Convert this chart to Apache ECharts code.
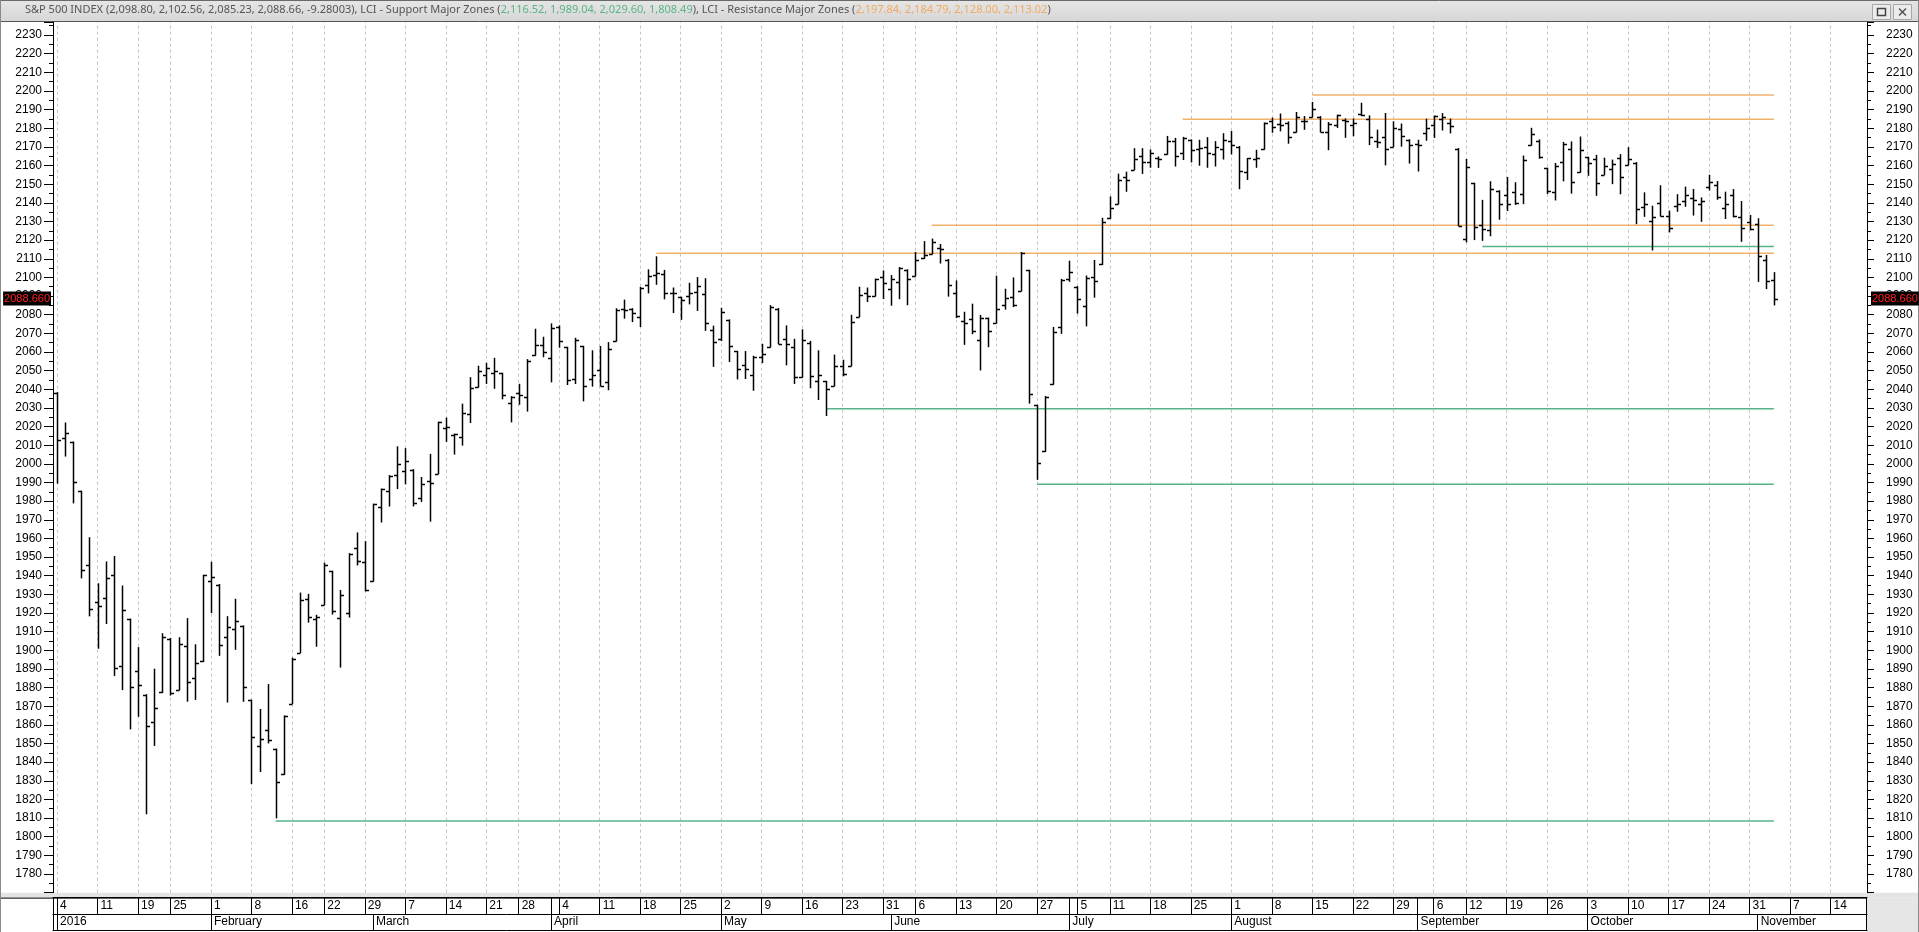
<!DOCTYPE html>
<html><head><meta charset="utf-8">
<script src="https://cdn.jsdelivr.net/npm/echarts@6/dist/echarts.min.js"></script>
<style>html,body{margin:0;padding:0;background:#fff;overflow:hidden}#c{width:1919px;height:932px;}</style>
</head><body><div id="c"></div>
<script>
// ---------- categories (trading days) ----------
const holidays = ['2016-01-18','2016-02-15','2016-03-25','2016-05-30','2016-07-04','2016-09-05','2016-11-24'];
const dayCount = 224;
const monthNames = ['2016','February','March','April','May','June','July','August','September','October','November','December'];

// ---------- OHLC data (Jan 4 2016 .. Nov 3 2016) ----------
const opens = [
 2038.20,2013.78,2011.71,1985.32,1945.97,1926.12,1927.83,1940.34,1891.68,1916.68,1888.66,1876.18,1861.46,1877.40,1906.28,1878.79,1902.52,1885.22,1894.00,
 1936.94,1935.26,1907.07,1911.67,1913.07,1873.25,1848.46,1857.10,1847.00,1833.40,1871.44,1898.80,1927.57,1916.74,1924.44,1942.38,1917.56,1920.03,1954.95,1947.13,
 1937.09,1976.60,1985.60,1994.01,1996.11,1996.88,1981.44,1990.97,1994.71,2019.27,2015.27,2014.24,2026.90,2041.16,2047.88,2048.64,2048.55,2032.48,2037.89,2035.75,2058.27,2063.77,
 2056.62,2073.19,2062.50,2045.56,2063.01,2045.54,2050.23,2043.72,2065.92,2082.89,2083.10,2078.83,2096.05,2101.52,2102.09,2091.49,2089.37,2089.84,2092.33,2090.93,2071.82,
 2067.17,2077.18,2060.30,2052.95,2047.77,2057.55,2062.63,2083.29,2067.17,2062.50,2046.53,2065.04,2044.38,2044.21,2041.88,2052.23,2052.65,2078.93,2091.44,2090.06,2100.13,
 2093.94,2097.71,2104.07,2100.83,2110.18,2112.71,2115.65,2109.57,2091.75,2076.65,2077.60,2066.36,2078.20,2075.58,2085.19,2089.75,2092.80,2103.81,2031.45,2006.67,2042.69,2073.17,
 2099.34,2095.05,2084.43,2100.42,2106.97,2131.72,2139.50,2153.81,2157.88,2165.13,2162.04,2163.79,2166.10,2172.91,2166.47,2173.71,2168.97,2169.81,2166.05,2168.83,
 2173.15,2169.94,2156.81,2163.51,2168.79,2183.76,2182.24,2182.81,2177.97,2183.74,2186.08,2186.24,2177.84,2181.90,2184.24,2181.58,2187.81,2185.09,2173.29,2175.10,2170.19,2179.45,2173.56,
 2171.33,2177.49,2181.61,2185.17,2182.76,2169.08,2120.86,2150.47,2127.86,2125.36,2146.48,2143.99,2145.94,2144.58,2170.94,2173.29,2158.54,2146.04,2161.85,2168.90,2156.51,
 2164.33,2163.37,2155.15,2158.22,2164.19,2160.39,2161.35,2137.67,2130.26,2139.68,2132.95,2138.31,2140.81,2142.51,2139.43,2148.50,2149.72,2136.97,2144.06,2132.23,2129.78,
 2128.68,2109.43,2098.80
];
const highs = [
 2038.20,2021.94,2011.71,1985.32,1960.40,1935.65,1947.38,1950.33,1934.47,1916.68,1901.44,1876.18,1889.85,1908.85,1906.28,1906.73,1916.99,1902.96,1940.24,
 1947.20,1935.26,1918.01,1927.35,1913.07,1873.25,1868.25,1881.60,1847.00,1864.78,1895.77,1930.68,1930.00,1918.78,1946.70,1942.38,1932.08,1951.83,1962.96,1958.27,
 1978.35,1986.51,1993.69,2009.13,2008.16,1996.88,1992.69,2005.08,2022.37,2024.57,2015.94,2032.02,2046.24,2052.36,2053.91,2056.60,2048.55,2036.04,2042.67,2055.91,2072.21,2067.92,
 2075.07,2074.02,2062.50,2067.33,2063.01,2060.63,2062.93,2065.05,2083.18,2087.84,2083.22,2094.66,2104.05,2111.05,2103.78,2094.32,2089.37,2096.87,2099.89,2099.30,2073.85,
 2083.42,2077.18,2060.30,2060.23,2057.72,2064.15,2084.87,2083.29,2073.99,2066.79,2071.88,2065.69,2060.61,2044.21,2058.35,2055.58,2079.67,2094.73,2094.30,2099.06,2103.48,
 2100.97,2105.26,2104.07,2113.36,2119.22,2120.55,2117.64,2109.57,2098.12,2081.30,2085.65,2079.62,2078.20,2100.66,2093.66,2099.71,2113.32,2103.81,2031.45,2036.09,2073.13,2098.94,
 2108.71,2095.05,2100.72,2109.08,2131.71,2143.16,2155.40,2156.45,2169.05,2169.05,2168.35,2164.63,2175.63,2174.56,2175.11,2173.71,2173.54,2174.98,2172.85,2177.09,
 2178.29,2170.20,2163.79,2168.19,2182.87,2185.44,2187.66,2183.41,2188.45,2186.28,2193.81,2186.24,2183.08,2187.03,2185.00,2184.94,2193.42,2186.66,2179.00,2187.94,2183.48,2182.27,2173.79,
 2173.56,2184.87,2186.57,2187.87,2184.94,2169.08,2163.30,2150.47,2141.33,2151.31,2146.48,2153.61,2150.80,2165.11,2179.99,2173.75,2158.54,2161.13,2172.40,2172.67,2175.30,
 2164.41,2165.46,2163.95,2162.93,2165.86,2169.60,2161.56,2145.36,2138.19,2149.19,2135.61,2144.38,2148.44,2147.18,2142.63,2154.79,2151.44,2145.73,2147.13,2140.72,2133.25,
 2131.45,2111.76,2102.56
];
const lows = [
 1989.68,2004.17,1979.05,1938.83,1918.46,1901.10,1914.35,1886.41,1878.93,1857.83,1864.60,1812.29,1848.98,1877.40,1875.97,1878.79,1872.70,1873.65,1894.00,
 1920.30,1897.29,1872.23,1900.52,1872.65,1828.46,1834.94,1850.32,1810.10,1833.40,1871.44,1898.80,1915.09,1902.17,1924.44,1919.44,1891.00,1917.81,1945.78,1931.81,
 1937.09,1968.80,1977.37,1986.77,1989.30,1977.43,1979.84,1969.25,1994.71,2012.05,2005.23,2010.04,2022.16,2041.16,2043.14,2040.57,2034.86,2022.49,2031.96,2028.31,2058.27,2057.46,
 2043.98,2062.57,2042.56,2043.09,2033.80,2041.69,2041.88,2039.74,2065.92,2078.13,2076.31,2073.65,2091.68,2096.32,2088.52,2081.20,2077.52,2085.80,2082.31,2071.62,2052.28,
 2066.11,2054.89,2045.55,2045.77,2039.45,2054.31,2062.63,2064.46,2053.13,2043.13,2046.53,2040.82,2034.49,2025.91,2041.88,2047.26,2052.65,2078.93,2087.08,2090.06,2088.66,
 2085.10,2088.59,2085.36,2100.83,2110.18,2112.71,2107.73,2089.96,2078.46,2064.10,2069.80,2050.37,2062.84,2075.58,2083.02,2084.36,2092.80,2032.57,1991.68,2006.67,2042.69,2070.00,
 2097.90,2080.86,2074.02,2089.39,2106.97,2131.72,2139.50,2146.21,2157.88,2155.79,2159.07,2159.01,2166.10,2159.75,2163.24,2161.95,2160.18,2159.07,2159.74,2163.49,
 2166.21,2147.58,2152.56,2159.07,2168.79,2177.85,2178.61,2172.00,2177.97,2179.42,2186.08,2178.14,2168.50,2180.46,2175.13,2175.96,2186.80,2171.25,2169.74,2160.39,2170.19,2170.41,2161.35,
 2157.09,2173.59,2175.10,2179.07,2177.49,2127.81,2119.12,2120.27,2119.90,2122.36,2131.20,2135.91,2139.17,2139.57,2170.94,2163.97,2145.04,2141.55,2151.79,2145.20,2156.51,
 2154.77,2144.01,2155.15,2150.28,2144.85,2160.39,2128.84,2132.77,2114.72,2132.98,2124.43,2135.49,2138.15,2133.44,2130.09,2146.91,2141.93,2131.59,2132.52,2119.36,2125.53,
 2097.85,2094.00,2085.23
];
const closes = [
 2012.66,2016.71,1990.26,1943.09,1922.03,1923.67,1938.68,1890.28,1921.84,1880.33,1881.33,1859.33,1868.99,1906.90,1877.08,1903.63,1882.95,1893.36,1940.24,
 1939.38,1903.03,1912.53,1915.45,1880.05,1853.44,1852.21,1851.86,1829.08,1864.78,1895.58,1926.82,1917.83,1917.78,1945.50,1921.27,1929.80,1951.70,1948.05,1932.23,
 1978.35,1986.45,1993.40,1999.99,2001.76,1979.26,1989.26,1989.57,2022.19,2019.64,2015.93,2027.22,2040.59,2049.58,2051.60,2049.80,2036.71,2035.94,2037.05,2055.01,2063.95,2059.74,
 2072.78,2066.13,2045.17,2066.66,2041.91,2047.60,2041.99,2061.72,2082.42,2082.78,2080.73,2094.34,2100.80,2102.40,2091.48,2091.58,2087.79,2091.70,2095.15,2075.81,2065.30,
 2081.43,2063.37,2051.12,2050.63,2057.14,2058.69,2084.39,2064.46,2064.11,2046.61,2066.66,2047.21,2047.63,2040.04,2052.32,2048.04,2076.06,2090.54,2090.10,2099.06,2096.95,
 2099.33,2105.26,2099.13,2109.41,2112.13,2119.12,2115.48,2096.07,2079.06,2075.32,2071.50,2077.99,2071.22,2083.25,2088.90,2085.45,2113.32,2037.41,2000.54,2036.09,2070.77,2098.86,
 2102.95,2088.55,2099.73,2097.90,2129.90,2137.16,2152.14,2152.43,2163.75,2161.74,2166.89,2163.78,2173.02,2165.17,2175.03,2168.48,2169.18,2166.58,2170.06,2173.60,
 2170.84,2157.03,2163.79,2164.25,2182.87,2180.89,2181.74,2175.49,2185.79,2184.05,2190.15,2178.15,2182.22,2187.02,2183.87,2182.64,2186.90,2175.44,2172.47,2169.04,2180.38,2176.12,2170.95,
 2170.86,2179.98,2186.48,2186.16,2181.30,2127.81,2159.04,2127.02,2125.77,2147.26,2139.16,2139.12,2139.76,2163.12,2177.18,2164.69,2146.10,2159.93,2171.37,2151.13,2168.27,
 2161.20,2150.49,2159.73,2160.77,2153.74,2163.66,2136.73,2139.18,2132.55,2132.98,2126.50,2139.60,2144.29,2141.34,2141.16,2151.33,2143.16,2139.43,2133.04,2126.41,2126.15,
 2111.72,2097.94,2088.66
];
const lastChange = -9.28003;

// ---------- support / resistance zones ----------
const supportLevels = [2116.52, 1989.04, 2029.60, 1808.49];
const supportStarts = ['2016-09-14','2016-06-27','2016-05-19','2016-02-11'];
const resistanceLevels = [2197.84, 2184.79, 2128.00, 2113.02];
const resistanceStarts = ['2016-08-15','2016-07-22','2016-06-08','2016-04-20'];
const zoneEnd = '2016-11-03';

// ---------- value axis ----------
const yMin = 1770, yMax = 2237, yStep = 10;

// build trading-day categories
const dates = [];
for (let t = Date.UTC(2016,0,4); dates.length < dayCount; t += 86400000) {
  const d = new Date(t); const dow = d.getUTCDay(); const s = d.toISOString().slice(0,10);
  if (dow === 0 || dow === 6 || holidays.includes(s)) continue;
  dates.push(s);
}
const dowOf = s => new Date(s + 'T00:00:00Z').getUTCDay();
const weekStart = dates.map((s,i) => i === 0 || dowOf(s) <= dowOf(dates[i-1]));
const monthStart = dates.map((s,i) => i === 0 || s.slice(5,7) !== dates[i-1].slice(5,7));
let lastWeek = 0;
const monthSepRow1 = dates.map((s,i) => {
  if (weekStart[i]) { lastWeek = i; return false; }
  return monthStart[i] && (i - lastWeek) >= 2;
});

const ohlc = opens.map((o,i) => [i, o, highs[i], lows[i], closes[i]]);
const zoneLine = (v, s, color) => ({
  type:'line', xAxisIndex:0, yAxisIndex:0, silent:true, symbol:'none', animation:false,
  data:[[dates.indexOf(s), v],[dates.indexOf(zoneEnd), v]],
  lineStyle:{color:color, width:1.5}, z:1
});
const GREEN = '#55b48a', ORANGE = '#f2b26c';
const fmt = v => v.toLocaleString('en-US',{minimumFractionDigits:2, maximumFractionDigits:2});
const L = opens.length - 1;
const lastStr = closes[L].toFixed(3);

const titleText =
  '{a|S&P 500 INDEX (' + [opens[L],highs[L],lows[L],closes[L]].map(fmt).join(', ') + ', ' + lastChange + '), LCI - Support Major Zones (}' +
  '{g|' + supportLevels.map(fmt).join(', ') + '}{a|), LCI - Resistance Major Zones (}' +
  '{o|' + resistanceLevels.map(fmt).join(', ') + '}{a|)}';

const FONT = 'Liberation Sans, Arial, sans-serif';
const TFONT = 'Noto Sans, sans-serif';
const W = 1919, H = 932, GL = 53, GR = 52, GT = 22, GB = 39.36;
const plotBottom = H - GB;
const priceLabel = (pos, dist) => ({
  show:true, position:pos, distance:dist, formatter:lastStr, opacity:1,
  color:'#ff2020', backgroundColor:'#000', padding:[2,1,1,1], fontFamily:FONT, fontSize:11
});

const chart = echarts.init(document.getElementById('c'), null, {renderer:'canvas'});
chart.setOption({
  animation:false,
  backgroundColor:'#fff',
  title:{
    text:titleText, left:25, top:4, padding:0,
    textStyle:{rich:{
      a:{fontFamily:TFONT, fontSize:11, fontWeight:'normal', color:'#555555'},
      g:{fontFamily:TFONT, fontSize:11, fontWeight:'normal', color:'#5ab486'},
      o:{fontFamily:TFONT, fontSize:11, fontWeight:'normal', color:'#f2aa62'}
    }}
  },
  grid:{left:GL, right:GR, top:GT, bottom:GB, containLabel:false},
  xAxis:[
    { type:'category', data:dates, boundaryGap:true, position:'bottom',
      axisLine:{show:false}, axisLabel:{show:false}, splitLine:{show:false},
      axisTick:{show:true, alignWithLabel:true, inside:true, length:H-GB-GT,
        interval:(i)=>weekStart[i], lineStyle:{color:'#c4c4c4', type:[3,3], width:1}} },
    { type:'category', data:dates, boundaryGap:true, position:'bottom', offset:5,
      axisLine:{show:true, lineStyle:{color:'#000', width:1}},
      axisTick:{show:true, alignWithLabel:true, length:16.5, interval:(i)=>weekStart[i]||monthSepRow1[i], lineStyle:{color:'#000'}},
      axisLabel:{show:true, interval:(i)=>weekStart[i], align:'left', margin:2, padding:[0,0,0,3],
        formatter:(v)=>String(parseInt(v.slice(8,10),10)), fontFamily:FONT, fontSize:12, color:'#000'},
      splitLine:{show:false} },
    { type:'category', data:dates, boundaryGap:true, position:'bottom', offset:21.5,
      axisLine:{show:true, lineStyle:{color:'#000', width:1}},
      axisTick:{show:true, alignWithLabel:true, length:16, interval:(i)=>monthStart[i], lineStyle:{color:'#000'}},
      axisLabel:{show:true, interval:(i)=>monthStart[i], align:'left', margin:2, padding:[0,0,0,3],
        formatter:(v)=>monthNames[parseInt(v.slice(5,7),10)-1], fontFamily:FONT, fontSize:12, color:'#000'},
      splitLine:{show:false} },
    { type:'category', data:dates, boundaryGap:true, position:'bottom', offset:37.5,
      axisLine:{show:true, lineStyle:{color:'#000', width:1}},
      axisTick:{show:false}, axisLabel:{show:false}, splitLine:{show:false} }
  ],
  yAxis:[
    { type:'value', position:'left', min:yMin, max:yMax, interval:yStep, scale:true,
      axisLine:{show:true, lineStyle:{color:'#000'}},
      axisTick:{show:true, length:9, lineStyle:{color:'#000'}},
      minorTick:{show:true, splitNumber:2, length:4, lineStyle:{color:'#000'}},
      axisLabel:{show:true, margin:11, showMinLabel:false, showMaxLabel:false, formatter:(v)=>String(v), fontFamily:FONT, fontSize:12, color:'#000'},
      splitLine:{show:false} },
    { type:'value', position:'right', min:yMin, max:yMax, interval:yStep, scale:true,
      axisLine:{show:true, lineStyle:{color:'#000'}},
      axisTick:{show:true, length:7, lineStyle:{color:'#000'}},
      minorTick:{show:true, splitNumber:2, length:4, lineStyle:{color:'#000'}},
      axisLabel:{show:true, margin:19, showMinLabel:false, showMaxLabel:false, formatter:(v)=>String(v), fontFamily:FONT, fontSize:12, color:'#000'},
      splitLine:{show:false} }
  ],
  series:[
    ...supportLevels.map((v,i)=>zoneLine(v, supportStarts[i], GREEN)),
    ...resistanceLevels.map((v,i)=>zoneLine(v, resistanceStarts[i], ORANGE)),
    { type:'custom', name:'S&P 500', xAxisIndex:0, yAxisIndex:0, z:3,
      data:ohlc, encode:{x:0, y:[1,2,3,4]},
      renderItem:(params, api)=>{
        const x = api.value(0);
        const o = api.coord([x, api.value(1)]);
        const h = api.coord([x, api.value(2)]);
        const l = api.coord([x, api.value(3)]);
        const c = api.coord([x, api.value(4)]);
        const px = Math.round(o[0]) + 0.5;
        const st = {stroke:'#000', lineWidth:1.5};
        return {type:'group', children:[
          {type:'line', shape:{x1:px, y1:h[1]-0.5, x2:px, y2:l[1]+0.5}, style:st},
          {type:'line', shape:{x1:px-3.5, y1:Math.round(o[1])+0.5, x2:px, y2:Math.round(o[1])+0.5}, style:st},
          {type:'line', shape:{x1:px, y1:Math.round(c[1])+0.5, x2:px+3.5, y2:Math.round(c[1])+0.5}, style:st}
        ]};
      }
    },
    { type:'line', name:'last', xAxisIndex:0, yAxisIndex:0, data:[], silent:true, z:10,
      markLine:{ silent:true, symbol:'none', animation:false,
        lineStyle:{color:'rgba(0,0,0,0)', width:0, opacity:1},
        data:[
          {yAxis:closes[L], label:priceLabel('start', 2)},
          {yAxis:closes[L], label:priceLabel('end', 4)}
        ]}
    }
  ],
  graphic:[
    {type:'rect', silent:true, z:-10, shape:{x:0,y:0,width:W,height:GT}, style:{fill:new echarts.graphic.LinearGradient(0,0,0,1,[{offset:0,color:'#e6e6e6'},{offset:1,color:'#d6d6d6'}])}},
    {type:'line', silent:true, z:-9, shape:{x1:0,y1:0.5,x2:W,y2:0.5}, style:{stroke:'#6a6a6a', lineWidth:1}},
    {type:'line', silent:true, z:-9, shape:{x1:0,y1:GT-0.5,x2:W,y2:GT-0.5}, style:{stroke:'#555', lineWidth:1}},
    {type:'rect', silent:true, z:-10, shape:{x:0,y:plotBottom,width:W,height:5}, style:{fill:'#e4e4e4'}},
    {type:'rect', silent:true, z:-10, shape:{x:W-GR,y:plotBottom+5,width:GR,height:H-plotBottom-5}, style:{fill:'#e6e6e6'}},
    {type:'line', silent:true, z:-9, shape:{x1:0,y1:plotBottom+5.5,x2:W-GR,y2:plotBottom+5.5}, style:{stroke:'#000', lineWidth:1}},
    {type:'line', silent:true, z:-9, shape:{x1:GL+0.5,y1:plotBottom+5,x2:GL+0.5,y2:H-1.5}, style:{stroke:'#000', lineWidth:1}},
    {type:'line', silent:true, z:-9, shape:{x1:W-GR-0.5,y1:plotBottom+5,x2:W-GR-0.5,y2:H-1.5}, style:{stroke:'#000', lineWidth:1}},
    {type:'line', silent:true, z:-9, shape:{x1:0.5,y1:0,x2:0.5,y2:H}, style:{stroke:'#8a8a8a', lineWidth:1}},
    {type:'line', silent:true, z:-9, shape:{x1:W-0.5,y1:0,x2:W-0.5,y2:H}, style:{stroke:'#8a8a8a', lineWidth:1}},
    {type:'rect', silent:true, shape:{x:1872.5,y:4.5,width:18,height:15}, style:{fill:'#ececec', stroke:'#a8a8a8', lineWidth:1}},
    {type:'rect', silent:true, shape:{x:1877.5,y:8.5,width:8,height:7}, style:{fill:'none', stroke:'#444', lineWidth:1.5}},
    {type:'rect', silent:true, shape:{x:1893.5,y:4.5,width:18,height:15}, style:{fill:'#ececec', stroke:'#a8a8a8', lineWidth:1}},
    {type:'line', silent:true, shape:{x1:1899,y1:8.5,x2:1906,y2:15.5}, style:{stroke:'#555', lineWidth:1.5}},
    {type:'line', silent:true, shape:{x1:1906,y1:8.5,x2:1899,y2:15.5}, style:{stroke:'#555', lineWidth:1.5}}
  ]
});
</script></body></html>
